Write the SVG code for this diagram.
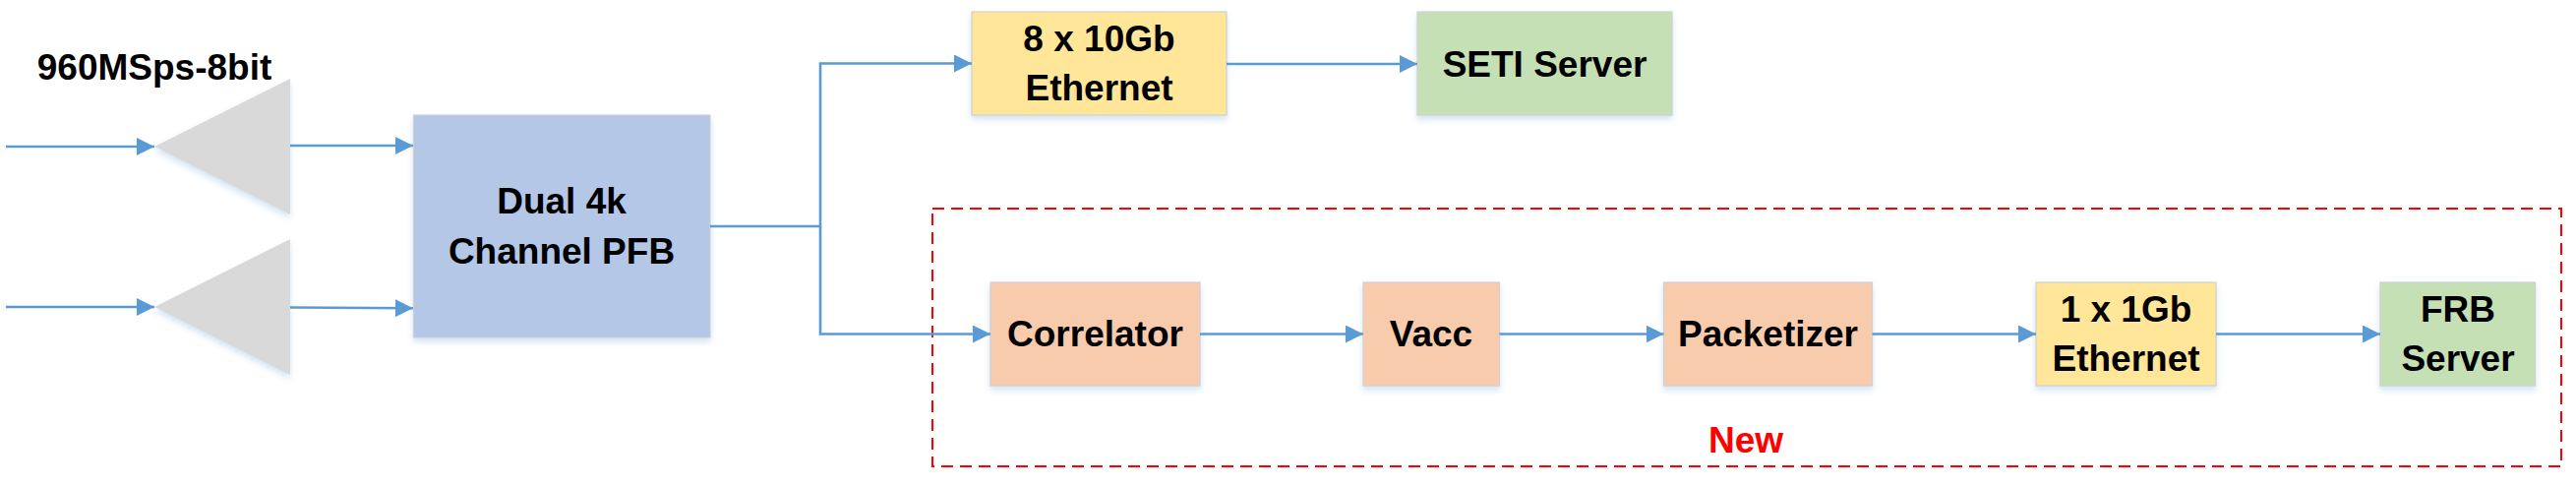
<svg xmlns="http://www.w3.org/2000/svg" width="2619" height="495" viewBox="0 0 2619 495">
  <defs>
    <marker id="arr" viewBox="0 0 18 18" refX="18" refY="9" markerWidth="18" markerHeight="18" markerUnits="userSpaceOnUse" orient="auto">
      <path d="M0,0 L18,9 L0,18 Z" fill="#5B9BD5"/>
    </marker>
    <filter id="sh" x="-10%" y="-10%" width="120%" height="130%">
      <feDropShadow dx="0" dy="4" stdDeviation="3" flood-color="#9DC3E6" flood-opacity="0.45"/>
    </filter>
  </defs>
  <style>
    .box { stroke: #D0D0D0; stroke-width: 1.2; filter: url(#sh); }
    .blue { fill: #B4C7E7; }
    .yellow { fill: #FFE699; }
    .green { fill: #C5E0B4; }
    .orange { fill: #F8CBAD; }
    .tri { fill: #D9D9D9; filter: url(#sh); }
    .t { font-family: "Liberation Sans", Arial, sans-serif; font-weight: bold; font-size: 37px; fill: #000; text-anchor: middle; }
    .conn line, .conn polyline { stroke: #5B9BD5; stroke-width: 2.6; fill: none; }
    .dash { fill: none; stroke: #FF0000; stroke-width: 2; stroke-dasharray: 12 7; }
  </style>
  <rect x="0" y="0" width="2619" height="495" fill="#FFFFFF"/>

  <g id="label-960">
    <text class="t" x="157" y="81">960MSps-8bit</text>
  </g>

  <g id="group-new">
    <rect class="dash" x="948" y="212" width="1656" height="262"/>
    <text class="t" x="1775" y="460" style="fill:#FF0000">New</text>
  </g>

  <g id="amp1">
    <polygon class="tri" points="295,80 295,218 157,149"/>
  </g>
  <g id="amp2">
    <polygon class="tri" points="295,243 295,381 157,312"/>
  </g>

  <g id="pfb">
    <rect class="box blue" x="420.5" y="117" width="301.5" height="226"/>
    <text class="t" x="571" y="217">Dual 4k</text>
    <text class="t" x="571" y="268">Channel PFB</text>
  </g>

  <g id="eth10">
    <rect class="box yellow" x="988" y="12" width="259" height="105"/>
    <text class="t" x="1117.5" y="52">8 x 10Gb</text>
    <text class="t" x="1117.5" y="102">Ethernet</text>
  </g>

  <g id="seti">
    <rect class="box green" x="1441" y="12" width="259" height="105"/>
    <text class="t" x="1570.5" y="78">SETI Server</text>
  </g>

  <g id="correlator">
    <rect class="box orange" x="1007" y="287" width="213" height="105"/>
    <text class="t" x="1113.5" y="352">Correlator</text>
  </g>

  <g id="vacc">
    <rect class="box orange" x="1386" y="287" width="138.5" height="105"/>
    <text class="t" x="1455" y="352">Vacc</text>
  </g>

  <g id="packetizer">
    <rect class="box orange" x="1691.5" y="287" width="212" height="105"/>
    <text class="t" x="1797.5" y="352">Packetizer</text>
  </g>

  <g id="eth1">
    <rect class="box yellow" x="2070" y="287" width="183" height="105"/>
    <text class="t" x="2161.5" y="326.5">1 x 1Gb</text>
    <text class="t" x="2161.5" y="376.5">Ethernet</text>
  </g>

  <g id="frb">
    <rect class="box green" x="2420" y="287" width="157.5" height="105"/>
    <text class="t" x="2499" y="326.5">FRB</text>
    <text class="t" x="2499" y="376.5">Server</text>
  </g>

  <g id="connectors" class="conn">
    <line x1="6" y1="149" x2="157" y2="149" marker-end="url(#arr)"/>
    <line x1="6" y1="312" x2="157" y2="312" marker-end="url(#arr)"/>
    <line x1="295" y1="148" x2="420" y2="148" marker-end="url(#arr)"/>
    <line x1="295" y1="312.5" x2="420" y2="313.3" marker-end="url(#arr)"/>
    <polyline points="722,230 834,230 834,64.5 988,64.5" marker-end="url(#arr)"/>
    <polyline points="834,230 834,339.5 1007,339.5" marker-end="url(#arr)"/>
    <line x1="1247" y1="65" x2="1441" y2="65" marker-end="url(#arr)"/>
    <line x1="1220" y1="339.5" x2="1386" y2="339.5" marker-end="url(#arr)"/>
    <line x1="1524.5" y1="339.5" x2="1691.5" y2="339.5" marker-end="url(#arr)"/>
    <line x1="1903.5" y1="339.5" x2="2070" y2="339.5" marker-end="url(#arr)"/>
    <line x1="2253" y1="339.5" x2="2420" y2="339.5" marker-end="url(#arr)"/>
  </g>
</svg>
